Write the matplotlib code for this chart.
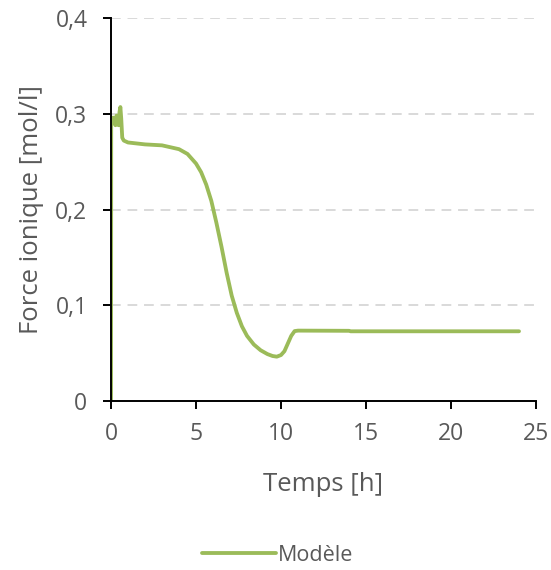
import matplotlib.pyplot as plt

# Data
temps = [0.0, 0.01, 0.05, 0.12, 0.2, 0.26, 0.32, 0.38, 0.44, 0.5, 0.55, 0.6, 0.66, 0.75,
         1.0, 2.0, 3.0, 4.0, 4.5, 5.0, 5.3, 5.6, 5.9, 6.2, 6.5, 6.8, 7.1, 7.4, 7.7, 8.0,
         8.4, 8.8, 9.2, 9.5, 9.75, 10.0, 10.2, 10.4, 10.6, 10.8, 11.0, 14.0, 14.1, 24.0]
force = [0.0, 0.29, 0.293, 0.296, 0.29, 0.288, 0.298, 0.292, 0.288, 0.302, 0.307, 0.295, 0.275, 0.272,
         0.270, 0.268, 0.267, 0.263, 0.258, 0.248, 0.239, 0.226, 0.209, 0.186, 0.161, 0.134,
         0.110, 0.092, 0.078, 0.068, 0.059, 0.053, 0.049, 0.047, 0.0463, 0.048, 0.052, 0.060,
         0.068, 0.073, 0.0735, 0.0733, 0.0728, 0.0728]

plt.rcParams['font.family'] = ['Open Sans', 'DejaVu Sans']

fig = plt.figure(figsize=(5.51, 5.70), dpi=100)
ax = fig.add_axes([0.2015, 0.2965, 0.7713, 0.6719])

ax.plot(temps, force, color='#9bbb59', linewidth=2.75, label='Modèle',
        solid_joinstyle='round', solid_capstyle='round')

ax.set_xlim(0, 25)
ax.set_ylim(0, 0.4)
ax.set_xticks([0, 5, 10, 15, 20, 25])
ax.set_yticks([0, 0.1, 0.2, 0.3, 0.4])
ax.set_yticklabels(['0', '0,1', '0,2', '0,3', '0,4'])

for y in [0.1, 0.2, 0.3, 0.4]:
    ax.axhline(y, color='#d9d9d9', linewidth=1.4, linestyle=(0, (5, 3.5)), zorder=0)

for s in ['top', 'right']:
    ax.spines[s].set_visible(False)
ax.spines['left'].set_linewidth(1.4)
ax.spines['bottom'].set_linewidth(1.4)
ax.tick_params(axis='both', direction='out', length=6, width=1.4, labelsize=16.5, labelcolor='#595959')
ax.tick_params(axis='x', pad=9)
ax.tick_params(axis='y', pad=11)

ax.set_xlabel('Temps [h]', fontsize=18.5, color='#595959', labelpad=19)
ax.set_ylabel('Force ionique [mol/l]', fontsize=18.5, color='#595959', labelpad=8)

fig.legend(loc='center', bbox_to_anchor=(0.504, 0.026), frameon=False, fontsize=15.5,
           labelcolor='#595959', handlelength=3.4, handletextpad=0.1)

fig.savefig('out.png', dpi=100)
